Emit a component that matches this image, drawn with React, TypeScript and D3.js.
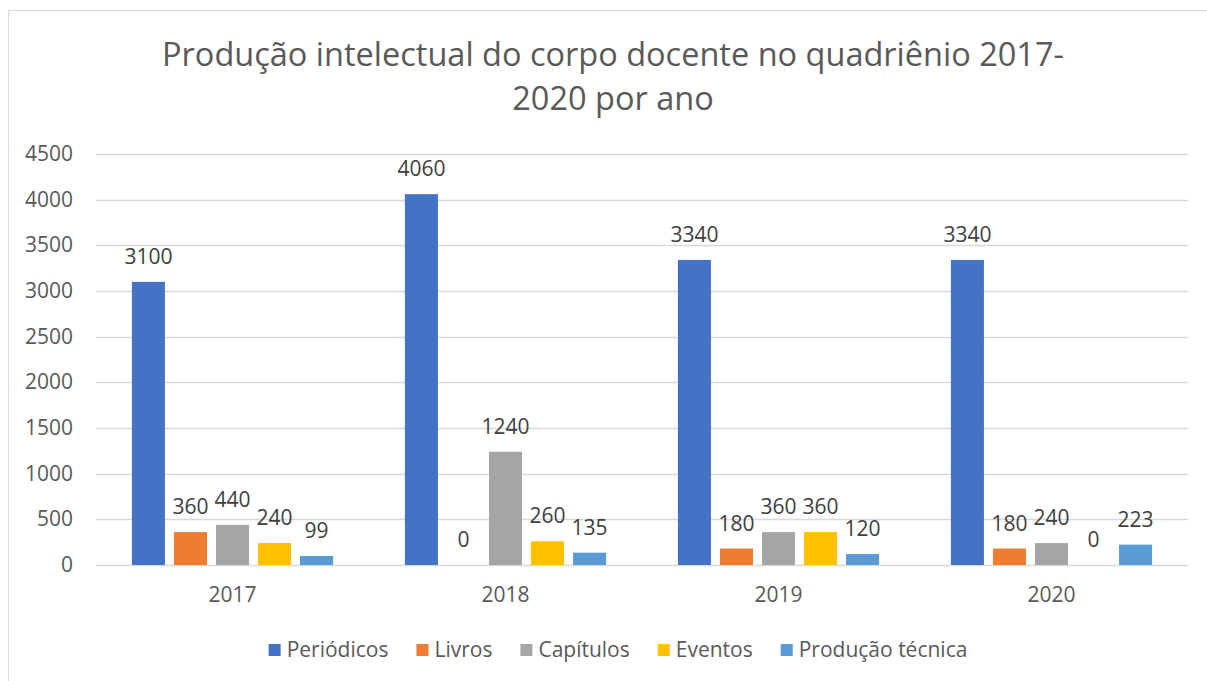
import { useEffect, useRef } from 'react';
import * as d3 from 'd3';

const years = ['2017', '2018', '2019', '2020'];
const seriesNames = ['Periódicos', 'Livros', 'Capítulos', 'Eventos', 'Produção técnica'];
const periodicos = [3100, 4060, 3340, 3340];
const livros = [360, 0, 180, 180];
const capitulos = [440, 1240, 360, 240];
const eventos = [240, 260, 360, 0];
const producaoTecnica = [99, 135, 120, 223];
const yTicks = [0, 500, 1000, 1500, 2000, 2500, 3000, 3500, 4000, 4500];
const colors = ['#4472C4', '#ED7D31', '#A5A5A5', '#FFC000', '#5B9BD5'];
const titleLines = ['Produção intelectual do corpo docente no quadriênio 2017-', '2020 por ano'];

const FONT = '"Open Sans", sans-serif';
const TEXT = '#595959';

export default function App() {
  const svgRef = useRef<SVGSVGElement>(null);

  useEffect(() => {
    if (!svgRef.current) return;
    const width = 1207;
    const height = 681;
    const svg = d3.select(svgRef.current);
    svg.selectAll('*').remove();
    svg.attr('width', width).attr('height', height);

    const values = [periodicos, livros, capitulos, eventos, producaoTecnica];

    // chart border
    svg.append('rect')
      .attr('x', 8.5).attr('y', 10.5)
      .attr('width', 1220).attr('height', 700)
      .attr('fill', '#fff')
      .attr('stroke', '#d9d9d9');

    const plot = { left: 96, right: 1188, top: 154, bottom: 565 };

    const x0 = d3.scaleBand()
      .domain(years)
      .range([plot.left, plot.right])
      .paddingInner(0.23)
      .paddingOuter(0.115);

    const x1 = d3.scaleBand()
      .domain(seriesNames)
      .range([0, x0.bandwidth()])
      .paddingInner(0.214)
      .paddingOuter(0.107);

    const y = d3.scaleLinear().domain([0, 4500]).range([plot.bottom, plot.top]);

    // gridlines
    svg.append('g')
      .selectAll('line')
      .data(yTicks)
      .join('line')
      .attr('x1', plot.left).attr('x2', plot.right)
      .attr('y1', d => Math.round(y(d)) + 0.5).attr('y2', d => Math.round(y(d)) + 0.5)
      .attr('stroke', '#d9d9d9')
      .attr('stroke-width', 1.3);

    // y labels
    svg.append('g')
      .selectAll('text')
      .data(yTicks)
      .join('text')
      .attr('x', 73)
      .attr('y', d => y(d) + 7)
      .attr('text-anchor', 'end')
      .attr('font-family', FONT)
      .attr('font-size', 21)
      .attr('fill', TEXT)
      .text(d => String(d));

    // bars
    const groups = svg.append('g')
      .selectAll('g')
      .data(years)
      .join('g')
      .attr('transform', d => `translate(${x0(d)},0)`);

    groups.selectAll('rect')
      .data((_, i) => seriesNames.map((s, k) => ({ s, k, v: values[k][i] })))
      .join('rect')
      .attr('x', d => x1(d.s) || 0)
      .attr('width', x1.bandwidth())
      .attr('y', d => y(d.v))
      .attr('height', d => y(0) - y(d.v))
      .attr('fill', d => colors[d.k]);

    groups.selectAll('text')
      .data((_, i) => seriesNames.map((s, k) => ({ s, k, v: values[k][i] })))
      .join('text')
      .attr('x', d => (x1(d.s) || 0) + x1.bandwidth() / 2)
      .attr('y', d => y(d.v) - 18)
      .attr('text-anchor', 'middle')
      .attr('font-family', FONT)
      .attr('font-size', 21)
      .attr('fill', '#404040')
      .text(d => String(d.v));

    // category labels
    svg.append('g')
      .selectAll('text')
      .data(years)
      .join('text')
      .attr('x', d => (x0(d) || 0) + x0.bandwidth() / 2)
      .attr('y', 602)
      .attr('text-anchor', 'middle')
      .attr('font-family', FONT)
      .attr('font-size', 21)
      .attr('fill', TEXT)
      .text(d => d);

    // title
    svg.append('g')
      .selectAll('text')
      .data(titleLines)
      .join('text')
      .attr('x', 613)
      .attr('y', (_, i) => 66 + i * 44)
      .attr('text-anchor', 'middle')
      .attr('font-family', FONT)
      .attr('font-size', 32.5)
      .attr('fill', TEXT)
      .text(d => d);

    // legend
    const legend = svg.append('g');
    const items = legend.selectAll('g')
      .data(seriesNames)
      .join('g');
    items.append('rect')
      .attr('width', 12).attr('height', 12)
      .attr('y', 644)
      .attr('fill', (_, i) => colors[i]);
    items.append('text')
      .attr('x', 18)
      .attr('y', 657)
      .attr('font-family', FONT)
      .attr('font-size', 21)
      .attr('fill', TEXT)
      .text(d => d);
    const widths: number[] = [];
    items.each(function () {
      const t = d3.select(this).select('text').node() as SVGTextElement;
      widths.push(18 + t.getComputedTextLength());
    });
    const gap = 28;
    const total = d3.sum(widths) + gap * (widths.length - 1);
    let cx = 618 - total / 2;
    items.attr('transform', (_, i) => {
      const tx = cx;
      cx += widths[i] + gap;
      return `translate(${tx},0)`;
    });
  }, []);

  return (
    <svg ref={svgRef} style={{ position: 'absolute', left: 0, top: 0, display: 'block' }}></svg>
  );
}
